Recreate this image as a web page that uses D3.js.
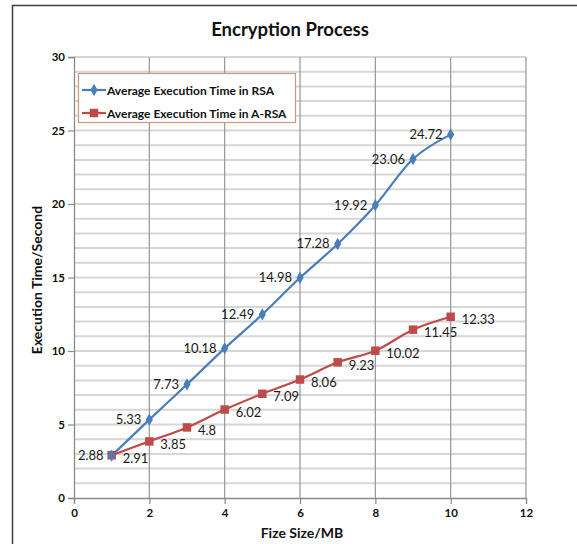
<!DOCTYPE html>
<html>
<head>
<meta charset="utf-8">
<script src="https://cdn.jsdelivr.net/npm/d3@7/dist/d3.min.js"></script>
<style>
  html, body { margin: 0; padding: 0; background: #fff; }
  svg { display: block; }
  text { font-family: Lato, "Open Sans", sans-serif; }
</style>
</head>
<body>
<svg id="chart" width="577" height="544"></svg>
<script>
// File size (MB) and encryption times (seconds)
const fileSizes = [1, 2, 3, 4, 5, 6, 7, 8, 9, 10];
const rsaTimes  = [2.88, 5.33, 7.73, 10.18, 12.49, 14.98, 17.28, 19.92, 23.06, 24.72];
const arsaTimes = [2.91, 3.85, 4.8, 6.02, 7.09, 8.06, 9.23, 10.02, 11.45, 12.33];
const seriesNames = ["Average Execution Time in RSA", "Average Execution Time in A-RSA"];
const xTicks = [0, 2, 4, 6, 8, 10, 12];
const yTicks = [0, 5, 10, 15, 20, 25, 30];

const svg = d3.select("#chart");
const W = 577, H = 544;
const plot = { left: 74, right: 526, top: 57, bottom: 498 };

const x = d3.scaleLinear().domain([0, 12]).range([plot.left, plot.right]);
const y = d3.scaleLinear().domain([0, 30]).range([plot.bottom, plot.top]);

const blue = "#4a7ebb", red = "#be4b48";

// outer chart frame
svg.append("rect")
  .attr("x", 12.5).attr("y", 5.5)
  .attr("width", W + 20).attr("height", H + 20)
  .attr("fill", "none").attr("stroke", "#3f3f3f").attr("stroke-width", 1.5);

// title
svg.append("text")
  .attr("x", 290).attr("y", 36)
  .attr("text-anchor", "middle")
  .attr("font-size", 18.5).attr("font-weight", "bold").attr("fill", "#111")
  .text("Encryption Process");

// horizontal minor grid, one per unit
const g = svg.append("g");
g.selectAll("line.hgrid")
  .data(d3.range(1, 31))
  .join("line")
  .attr("class", "hgrid")
  .attr("x1", plot.left).attr("x2", plot.right)
  .attr("y1", d => y(d)).attr("y2", d => y(d))
  .attr("stroke", "#d6d6d6").attr("stroke-width", 2);

// vertical grid at each labelled x tick
g.selectAll("line.vgrid")
  .data(xTicks.slice(1))
  .join("line")
  .attr("class", "vgrid")
  .attr("x1", d => x(d)).attr("x2", d => x(d))
  .attr("y1", plot.top).attr("y2", plot.bottom)
  .attr("stroke", "#959595").attr("stroke-width", 1.2);

// axes
const yAxis = svg.append("g")
  .attr("transform", `translate(${plot.left},0)`)
  .call(d3.axisLeft(y).tickValues(yTicks).tickSize(6).tickPadding(3));
const xAxis = svg.append("g")
  .attr("transform", `translate(0,${plot.bottom})`)
  .call(d3.axisBottom(x).tickValues(xTicks).tickSize(6).tickPadding(5));

[yAxis, xAxis].forEach(a => {
  a.select(".domain").attr("stroke", "#8a8a8a").attr("stroke-width", 1.3);
  a.selectAll(".tick line").attr("stroke", "#8a8a8a").attr("stroke-width", 1.2);
  a.selectAll(".tick text")
    .attr("font-family", "Lato, sans-serif")
    .attr("font-size", 11.5).attr("font-weight", "bold").attr("fill", "#111");
});

// axis titles
svg.append("text")
  .attr("transform", `translate(42,280) rotate(-90)`)
  .attr("text-anchor", "middle")
  .attr("font-size", 14).attr("font-weight", "bold").attr("fill", "#111")
  .text("Execution Time/Second");
svg.append("text")
  .attr("x", 302).attr("y", 538)
  .attr("text-anchor", "middle")
  .attr("font-size", 14).attr("font-weight", "bold").attr("fill", "#111")
  .text("Fize Size/MB");

// series lines
const line = d3.line()
  .x(d => x(d[0])).y(d => y(d[1]))
  .curve(d3.curveCatmullRom.alpha(0));

const rsa = fileSizes.map((f, i) => [f, rsaTimes[i]]);
const arsa = fileSizes.map((f, i) => [f, arsaTimes[i]]);

svg.append("path").datum(arsa)
  .attr("d", line).attr("fill", "none")
  .attr("stroke", red).attr("stroke-width", 2.2);
svg.append("path").datum(rsa)
  .attr("d", line).attr("fill", "none")
  .attr("stroke", blue).attr("stroke-width", 2.2);

const diamond = d3.symbol().type(d3.symbolDiamond).size(44);
const square = d3.symbol().type(d3.symbolSquare).size(72);

svg.append("g").selectAll("path")
  .data(arsa).join("path")
  .attr("transform", d => `translate(${x(d[0])},${y(d[1])})`)
  .attr("d", square).attr("fill", red);
svg.append("g").selectAll("path")
  .data(rsa).join("path")
  .attr("transform", d => `translate(${x(d[0])},${y(d[1])})`)
  .attr("d", diamond).attr("fill", blue);

// value labels: RSA to the left, A-RSA to the right
svg.append("g").selectAll("text")
  .data(rsa).join("text")
  .attr("x", d => x(d[0]) - 8).attr("y", d => y(d[1]) + 4.5)
  .attr("text-anchor", "end")
  .attr("font-size", 13).attr("fill", "#1a1a1a")
  .text(d => d[1]);
svg.append("g").selectAll("text")
  .data(arsa).join("text")
  .attr("x", d => x(d[0]) + 11).attr("y", d => y(d[1]) + 7.5)
  .attr("text-anchor", "start")
  .attr("font-size", 13).attr("fill", "#1a1a1a")
  .text(d => d[1]);

// legend
const lg = svg.append("g");
lg.append("rect")
  .attr("x", 78.5).attr("y", 73.5).attr("width", 217).attr("height", 49)
  .attr("fill", "#fff").attr("stroke", "#c99a7a").attr("stroke-width", 1.2);
const entries = [
  { name: seriesNames[0], color: blue, sym: diamond, cy: 90 },
  { name: seriesNames[1], color: red, sym: square, cy: 113 }
];
entries.forEach(e => {
  lg.append("line")
    .attr("x1", 82).attr("x2", 106).attr("y1", e.cy).attr("y2", e.cy)
    .attr("stroke", e.color).attr("stroke-width", 2.2);
  lg.append("path")
    .attr("transform", `translate(94,${e.cy})`)
    .attr("d", e.sym).attr("fill", e.color);
  lg.append("text")
    .attr("x", 107).attr("y", e.cy + 4.5)
    .attr("font-size", 12).attr("font-weight", "bold").attr("fill", "#111")
    .text(e.name);
});
</script>
</body>
</html>
